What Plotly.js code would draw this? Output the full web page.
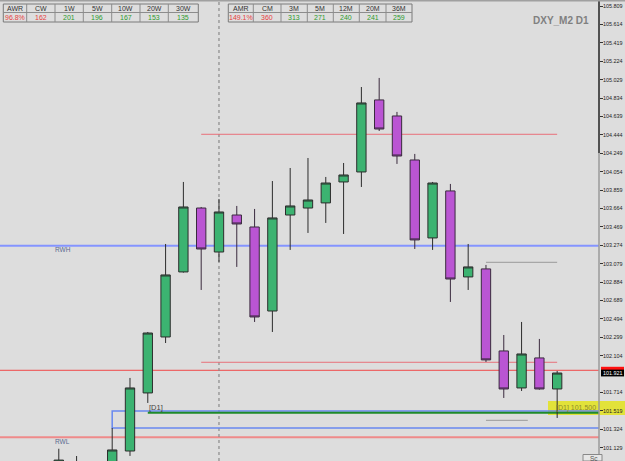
<!DOCTYPE html>
<html><head><meta charset="utf-8">
<script src="https://cdn.plot.ly/plotly-3.0.1.min.js"></script>
<style>html,body{margin:0;padding:0;background:#dddddd;overflow:hidden}</style>
</head><body><div id="chart" style="width:625px;height:461px"></div>
<script>
// ---- data ----
const candleIdx = [0,1,2,3,4,5,6,7,8,9,10,11,12,13,14,15,16,17,18,19,20,21,22,23,24,25,26,27,28];
const openP  = [100.90,100.85,100.93,100.80,101.095,101.710,102.303,102.992,103.669,103.203,103.595,103.468,102.578,103.595,103.669,103.723,103.945,104.051,104.814,104.644,104.178,103.352,103.850,102.939,103.024,102.155,101.763,102.081,101.752];
const highP  = [101.119,101.042,100.97,101.339,101.869,102.356,103.288,103.945,103.680,103.765,103.691,103.659,103.955,104.093,104.199,103.998,104.146,104.951,105.047,104.687,104.242,103.945,103.924,103.288,103.066,102.324,102.462,102.282,101.943];
const lowP   = [100.80,100.72,100.70,100.74,101.043,101.604,102.239,102.985,102.801,103.098,103.045,102.462,102.356,103.225,103.405,103.511,103.394,103.892,104.485,104.136,103.235,103.225,102.674,102.801,102.038,101.657,101.731,101.745,101.445];
const closeP = [100.999,100.95,100.78,101.106,101.763,102.345,102.960,103.680,103.235,103.627,103.500,102.515,103.564,103.691,103.754,103.934,104.019,104.782,104.506,104.220,103.331,103.934,102.917,103.045,102.060,101.752,102.123,101.752,101.921];

const tickText = ['105.809','105.614','105.419','105.224','105.029','104.834','104.639','104.444','104.249','104.054','103.859','103.664','103.469','103.274','103.079','102.884','102.689','102.494','102.299','102.104','101.714','101.519','101.324','101.129'];

const awrHead = ['AWR','CW','1W','5W','10W','20W','30W'];
const awrVals = ['96.8%','162','201','196','167','153','135'];
const amrHead = ['AMR','CM','3M','5M','12M','20M','36M'];
const amrVals = ['149.1%','360','313','271','240','241','259'];

const chartTitle = 'DXY_M2 D1';
const lastPrice = 101.921;
const rwhLevel = 103.270;
const rwlLevel = 101.240;
const redFullLevel = 101.950;
const redUpper = 104.450;
const redLower = 102.035;
const grayUpper = 103.094;
const grayLower = 101.420;
const zoneTop = 101.519;
const zoneBottom = 101.339;
const d1Level = 101.500;
const d1Text = '[D1] 101.500';
const sessionIdx = 9;

// ---- layout helpers ----
const W = 625, H = 461, PW = 599;
const X = px => px / PW;
const Y = py => 1 - py / H;
const yMax = 105.8726, yMin = 100.9891;
const FN = 'Liberation Sans, Arial, sans-serif';

const shapes = [];
const ann = [];

// yellow highlight (behind)
shapes.push({type:'rect', xref:'paper', yref:'paper', x0:X(548), x1:X(625), y0:Y(415), y1:Y(401), fillcolor:'#e2e23a', line:{width:0}, layer:'below'});
// full-width level lines
shapes.push({type:'line', xref:'paper', yref:'y', x0:0, x1:1, y0:rwhLevel, y1:rwhLevel, line:{color:'#8494ff', width:2}, layer:'below'});
shapes.push({type:'line', xref:'paper', yref:'y', x0:0, x1:1, y0:rwlLevel, y1:rwlLevel, line:{color:'#ef8a8a', width:2}, layer:'below'});
shapes.push({type:'line', xref:'paper', yref:'y', x0:0, x1:1, y0:redFullLevel, y1:redFullLevel, line:{color:'#f04848', width:1}, layer:'below'});
// short lines
shapes.push({type:'line', xref:'x', yref:'y', x0:8, x1:28, y0:redUpper, y1:redUpper, line:{color:'#e8707a', width:1}, layer:'below'});
shapes.push({type:'line', xref:'x', yref:'y', x0:8, x1:28, y0:redLower, y1:redLower, line:{color:'#e8707a', width:1}, layer:'below'});
shapes.push({type:'line', xref:'x', yref:'y', x0:24, x1:28, y0:grayUpper, y1:grayUpper, line:{color:'#9a9a9a', width:1}, layer:'below'});
shapes.push({type:'line', xref:'x', yref:'y', x0:24, x1:26.35, y0:grayLower, y1:grayLower, line:{color:'#9a9a9a', width:1}, layer:'below'});
// blue zone
shapes.push({type:'rect', xref:'x', yref:'y', x0:3, x1:30.4, y0:zoneBottom, y1:zoneTop, line:{color:'#6888f0', width:1.5}, fillcolor:'rgba(0,0,0,0)', layer:'below'});
// D1 green line
shapes.push({type:'line', xref:'x', yref:'y', x0:5, x1:30.4, y0:d1Level, y1:d1Level, line:{color:'#1e8a2a', width:2}, layer:'below'});
// session dotted line
shapes.push({type:'line', xref:'x', yref:'paper', x0:sessionIdx, x1:sessionIdx, y0:0, y1:1, line:{color:'#8a8a8a', width:1.2, dash:'dot'}, layer:'below'});
// axis line
shapes.push({type:'line', xref:'paper', yref:'paper', x0:1, x1:1, y0:1, y1:Y(153), line:{color:'#222', width:1.5}});
shapes.push({type:'line', xref:'paper', yref:'paper', x0:1, x1:1, y0:Y(153), y1:0, line:{color:'#9a9a9a', width:1.5}});
// top border
shapes.push({type:'line', xref:'paper', yref:'paper', x0:0, x1:X(625), y0:Y(0.7), y1:Y(0.7), line:{color:'#a0a0a0', width:1.5}});
// price labels on axis
shapes.push({type:'rect', xref:'paper', yref:'y', x0:X(601), x1:X(624), y0:redFullLevel-3.5/94.4, y1:redFullLevel+3.5/94.4, fillcolor:'#ff1010', line:{width:0}});
shapes.push({type:'rect', xref:'paper', yref:'y', x0:X(601), x1:X(624), y0:lastPrice-3.4/94.4, y1:lastPrice+3.4/94.4, fillcolor:'#000', line:{width:0}});
ann.push({xref:'paper', yref:'y', x:X(612.5), y:lastPrice, text:lastPrice.toFixed(3), showarrow:false, font:{family:FN, size:5.4, color:'#fff'}, xanchor:'center', yanchor:'middle', borderpad:0});
// bottom-right button
shapes.push({type:'rect', xref:'paper', yref:'paper', x0:X(583), x1:X(602), y0:Y(461), y1:Y(454.5), fillcolor:'#e6e6e6', line:{color:'#888', width:1}});
ann.push({xref:'paper', yref:'paper', x:X(588), y:Y(458), text:'Sc', showarrow:false, font:{family:FN, size:6.5, color:'#555'}, xanchor:'left', yanchor:'middle'});

// labels
ann.push({xref:'paper', yref:'paper', x:X(591), y:Y(21), text:'<b>'+chartTitle+'</b>', showarrow:false, font:{family:FN, size:10, color:'#808080'}, xanchor:'right', yanchor:'middle'});
ann.push({xref:'paper', yref:'paper', x:X(598), y:Y(408), text:d1Text, showarrow:false, font:{family:FN, size:7, color:'#8c8c2a'}, xanchor:'right', yanchor:'middle'});
ann.push({xref:'x', yref:'paper', x:5, y:Y(407), text:'[D1]', showarrow:false, font:{family:FN, size:7.5, color:'#444'}, xanchor:'left', yanchor:'middle', xshift:-1});
ann.push({xref:'paper', yref:'paper', x:X(53), y:Y(249.5), text:'RWH', showarrow:false, font:{family:FN, size:6.5, color:'#5a6a90'}, xanchor:'left', yanchor:'middle'});
ann.push({xref:'paper', yref:'paper', x:X(53), y:Y(441), text:'RWL', showarrow:false, font:{family:FN, size:6.5, color:'#5a6a90'}, xanchor:'left', yanchor:'middle'});

// tables
function addTable(edges, heads, vals) {
  const r0 = 4, r1 = 12.5, r2 = 22;
  shapes.push({type:'rect', xref:'paper', yref:'paper', x0:X(edges[0]), x1:X(edges[edges.length-1]), y0:Y(r2), y1:Y(r0), fillcolor:'#dedede', line:{color:'#7a7a7a', width:1}});
  shapes.push({type:'line', xref:'paper', yref:'paper', x0:X(edges[0]), x1:X(edges[edges.length-1]), y0:Y(r1), y1:Y(r1), line:{color:'#8c8c8c', width:1}});
  for (let i = 1; i < edges.length - 1; i++) {
    shapes.push({type:'line', xref:'paper', yref:'paper', x0:X(edges[i]), x1:X(edges[i]), y0:Y(r2), y1:Y(r0), line:{color:'#8c8c8c', width:1}});
  }
  for (let i = 0; i < heads.length; i++) {
    const cx = (edges[i] + edges[i+1]) / 2;
    ann.push({xref:'paper', yref:'paper', x:X(cx), y:Y((r0+r1)/2), text:heads[i], showarrow:false, font:{family:FN, size:7, color:'#333'}, xanchor:'center', yanchor:'middle'});
    ann.push({xref:'paper', yref:'paper', x:X(cx), y:Y((r1+r2)/2+0.3), text:vals[i], showarrow:false, font:{family:FN, size:7, color: i < 2 ? '#e84040' : '#2e9a2e'}, xanchor:'center', yanchor:'middle'});
  }
}
addTable([3.3,26.7,55,83.3,111.7,140,168.3,198.3], awrHead, awrVals);
addTable([228.3,253.3,281,307.3,333.3,359.3,386,412], amrHead, amrVals);

const trace = {
  type:'candlestick', x:candleIdx, open:openP, high:highP, low:lowP, close:closeP,
  increasing:{fillcolor:'#3cb371', line:{color:'#2c2c2c', width:1}},
  decreasing:{fillcolor:'#ba55d3', line:{color:'#3a2a3e', width:1}},
  whiskerwidth:0, hoverinfo:'skip', showlegend:false
};

const layout = {
  width:W, height:H,
  margin:{l:0, r:W-PW, t:0, b:0, pad:0},
  paper_bgcolor:'#dddddd', plot_bgcolor:'rgba(0,0,0,0)',
  showlegend:false, hovermode:false, boxgap:0.25,
  xaxis:{range:[-3.303, 30.35], showgrid:false, zeroline:false, showticklabels:false, ticks:'', showline:false, rangeslider:{visible:false}, fixedrange:true},
  yaxis:{side:'right', range:[yMin, yMax], tickvals:tickText.map(Number), ticktext:tickText, ticks:'outside', ticklen:3, tickwidth:1, tickcolor:'#333', showgrid:false, zeroline:false, showline:false, tickfont:{family:FN, size:5.4, color:'#222'}, ticklabelstandoff:-1, fixedrange:true},
  shapes:shapes, annotations:ann
};

Plotly.newPlot('chart', [trace], layout, {staticPlot:true, displayModeBar:false});
</script></body></html>
